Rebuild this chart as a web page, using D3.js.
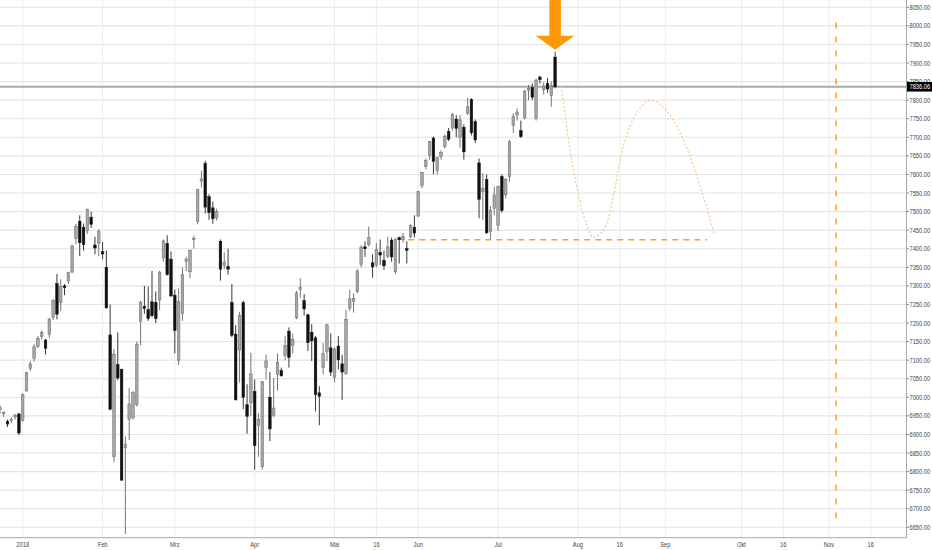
<!DOCTYPE html>
<html><head><meta charset="utf-8">
<script src="https://cdn.jsdelivr.net/npm/d3@7"></script>
<style>
body{margin:0;background:#fff;overflow:hidden;}
text{font-family:"Liberation Sans",Arial,sans-serif;}
</style>
</head><body>
<svg id="chart" width="932" height="550"></svg>
<script>
// ---------- DATA ----------
const holidays = ["2017-12-25","2018-01-01","2018-01-15","2018-02-19","2018-03-30","2018-05-28","2018-07-04"];
const firstCandleDate = "2017-12-21";
const calendarEnd = "2018-12-31";

const open = [6966,6956,6935,6937,6947,6955,
6938,7017,7078,7105,7137,7164,7154,7169,7215,7306,7255,7300,7313,7337,7427,7474,7458,7449,7485,7410,7415,
7392,7350,7168,6840,7088,7075,6864,6940,6945,6980,7205,7245,7236,7257,7256,7262,7375,7414,7372,
7275,7100,7225,7366,7338,7425,7473,7582,7630,7540,7510,7483,7420,7355,7352,7255,7170,7127,7255,6980,6985,
7016,6925,6813,7080,7000,6952,7062,7072,7112,7178,7140,7214,7290,7260,7222,7175,7160,7012,7080,7124,7133,
7054,7138,7090,7064,7240,7258,7285,7358,7405,7412,7362,7356,7390,7368,7380,7423,7338,7430,7424,7400,7432,7458,
7488,7570,7622,7652,7698,7610,7648,7675,7716,7725,7749,7700,7727,7765,7802,7742,7631,7554,7587,7446,7509,
7462,7594,7545,7594,7732,7760,7718,7752,7827,7834,7751,7862,7828,7845,7813,7916];

const high = [6980,6962,6940,6946,6955,6958,
7010,7069,7097,7143,7165,7180,7157,7214,7265,7332,7318,7305,7338,7410,7467,7490,7468,7508,7500,7432,7453,
7418,7395,7250,7130,7175,7077,6895,7025,7017,7150,7260,7300,7298,7340,7285,7340,7425,7436,7393,
7290,7293,7350,7378,7398,7435,7561,7610,7637,7547,7527,7508,7425,7390,7400,7305,7194,7230,7260,7035,7120,
7048,6958,7043,7115,7068,7052,7118,7080,7165,7188,7172,7286,7320,7278,7225,7197,7165,7030,7146,7198,7172,
7135,7165,7114,7236,7290,7280,7345,7410,7420,7460,7385,7415,7425,7395,7432,7430,7428,7432,7443,7420,7466,7490,
7556,7607,7643,7690,7702,7648,7665,7708,7725,7765,7760,7760,7735,7806,7805,7748,7643,7603,7600,7515,7567,
7570,7600,7590,7692,7765,7778,7745,7828,7841,7845,7858,7866,7848,7860,7850,7930];

const low = [6955,6947,6920,6930,6940,6898,
6935,7016,7071,7096,7132,7155,7115,7160,7208,7210,7232,7275,7305,7335,7412,7380,7395,7440,7456,7385,7380,
7372,7238,6965,6825,7046,6775,6632,6885,6940,6975,7140,7225,7206,7215,7200,7235,7365,7328,7270,
7118,7087,7206,7340,7320,7400,7466,7565,7495,7478,7467,7476,7314,7345,7330,7162,6992,7040,6968,6902,6950,
6805,6840,6805,7048,6882,6946,7018,7055,7100,7080,7118,7210,7268,7220,7125,7098,6962,6925,7062,7098,7058,
7040,7075,6993,7060,7232,7228,7280,7350,7378,7406,7322,7350,7356,7343,7375,7365,7332,7360,7416,7360,7428,7430,
7485,7563,7614,7640,7600,7600,7640,7670,7690,7718,7700,7672,7640,7760,7705,7685,7482,7477,7440,7425,7490,
7448,7497,7535,7580,7712,7745,7698,7748,7800,7800,7745,7845,7815,7820,7782,7832];

const close = [6972,6959,6928,6941,6952,6904,
7007,7066,7090,7136,7158,7174,7132,7211,7261,7224,7298,7295,7336,7408,7460,7416,7411,7505,7466,7402,7446,
7386,7241,6968,7115,7052,6777,6874,6982,7013,7143,7256,7239,7212,7220,7212,7337,7421,7330,7273,
7180,7258,7330,7372,7396,7427,7560,7588,7512,7497,7481,7500,7345,7364,7345,7167,6993,7220,7000,6949,7063,
6870,6941,7042,7098,6915,6971,7094,7058,7140,7107,7156,7281,7295,7238,7147,7152,7007,7003,7118,7195,7068,
7130,7101,7068,7210,7265,7266,7340,7404,7400,7430,7351,7398,7383,7354,7405,7378,7425,7424,7433,7396,7462,7442,
7554,7606,7637,7689,7635,7645,7659,7703,7695,7761,7724,7747,7661,7782,7712,7693,7533,7563,7443,7504,7545,
7567,7503,7587,7688,7756,7768,7702,7824,7832,7808,7854,7855,7838,7830,7840,7836.06];

const lastPrice = 7836.06;
const priceTicks = d3.range(6650, 8051, 50);

const tickDates  = ["2018-01-01","2018-02-01","2018-03-01","2018-04-01","2018-05-01","2018-05-16","2018-06-01","2018-07-01","2018-08-01","2018-08-16","2018-09-01","2018-10-01","2018-10-16","2018-11-01","2018-11-16"];
const tickLabels = ["2018","Feb","Mrz","Apr","Mai","16","Jun","Jul","Aug","16","Sep","Okt","16","Nov","16"];

// annotations (bar position, price)
const supportBar = [107.4, 186.0];
const supportPrice = 7424;
const markerBar = 219.9;
const markerPrice = [8009, 6661];
const pathBar   = [147.5,148.6,149.9,151.7,153.9,156.0,158.7,161.3,163.9,167.4,170.9,174.4,178.0,181.5,185.0,187.8];
const pathPrice = [7838,7765,7666,7567,7477,7431,7450,7540,7675,7765,7800,7782,7729,7648,7540,7442];

// ---------- CALENDAR ----------
const parse = d3.utcParse("%Y-%m-%d");
const fmt = d3.utcFormat("%Y-%m-%d");
const days = d3.utcDay.range(parse(firstCandleDate), parse(calendarEnd))
  .filter(d => d.getUTCDay() !== 0 && d.getUTCDay() !== 6 && !holidays.includes(fmt(d)));
const barOf = s => days.findIndex(d => d >= parse(s));

// ---------- LAYOUT ----------
const W = 932, H = 550;
const plotRight = 906.5, plotBottom = 537.7;
const svg = d3.select("#chart");

const x = d3.scaleLinear().domain([0.03, 238.4]).range([0, plotRight]);
const y = d3.scaleLinear().domain([6650, 8050]).range([527.3, 7.3]);

const grid = svg.append("g");
grid.selectAll("line.h").data(priceTicks).join("line")
  .attr("x1", 0).attr("x2", plotRight)
  .attr("y1", d => y(d)).attr("y2", d => y(d))
  .attr("stroke", "#e3e3e3").attr("stroke-width", 1.1);
const tickBars = tickDates.map(barOf);
grid.selectAll("line.v").data(tickBars).join("line")
  .attr("x1", d => x(d)).attr("x2", d => x(d))
  .attr("y1", 0).attr("y2", plotBottom)
  .attr("stroke", "#ececec").attr("stroke-width", 1);

// price line
svg.append("line").attr("x1", 0).attr("x2", plotRight)
  .attr("y1", y(lastPrice)).attr("y2", y(lastPrice))
  .attr("stroke", "#a9a9a9").attr("stroke-width", 1.8);

// candles
const candles = open.map((o, i) => ({p: i, o, h: high[i], l: low[i], c: close[i]}));
const bw = 2.6;
const cg = svg.append("g");
cg.selectAll("line").data(candles).join("line")
  .attr("x1", d => x(d.p)).attr("x2", d => x(d.p))
  .attr("y1", d => y(d.h)).attr("y2", d => y(d.l))
  .attr("stroke", d => d.c >= d.o ? "#666" : "#222").attr("stroke-width", 0.9);
cg.selectAll("rect").data(candles).join("rect")
  .attr("x", d => x(d.p) - bw / 2).attr("width", bw)
  .attr("y", d => y(Math.max(d.o, d.c)))
  .attr("height", d => Math.max(1, Math.abs(y(d.o) - y(d.c))))
  .attr("fill", d => d.c >= d.o ? "#a6a6a6" : "#111")
  .attr("stroke", d => d.c >= d.o ? "#6a6a6a" : "#111").attr("stroke-width", 0.5);

// support dashed line
svg.append("line")
  .attr("x1", x(supportBar[0])).attr("x2", x(supportBar[1]))
  .attr("y1", y(supportPrice)).attr("y2", y(supportPrice))
  .attr("stroke", "#f3a23a").attr("stroke-width", 1.5).attr("stroke-dasharray", "6,5");

// projected path (dotted)
svg.append("path")
  .datum(pathBar.map((b, i) => [b, pathPrice[i]]))
  .attr("d", d3.line().x(d => x(d[0])).y(d => y(d[1])).curve(d3.curveCatmullRom))
  .attr("fill", "none").attr("stroke", "#f6c27e").attr("stroke-width", 1.1)
  .attr("stroke-dasharray", "2,2");

// vertical dashed marker
svg.append("line")
  .attr("x1", x(markerBar)).attr("x2", x(markerBar))
  .attr("y1", y(markerPrice[0])).attr("y2", y(markerPrice[1]))
  .attr("stroke", "#f29a1f").attr("stroke-width", 1.4).attr("stroke-dasharray", "6,8");

// arrow above last candle
const last = candles[candles.length - 1];
const ax = x(last.p), tipY = y(last.h) - 2;
svg.append("path")
  .attr("d", `M${ax-5.8},0 L${ax+5.8},0 L${ax+5.8},${tipY-14} L${ax+19.4},${tipY-14} L${ax},${tipY} L${ax-19.4},${tipY-14} L${ax-5.8},${tipY-14} Z`)
  .attr("fill", "#ff9808");

// axes
svg.append("line").attr("x1", 0).attr("x2", plotRight).attr("y1", plotBottom).attr("y2", plotBottom)
  .attr("stroke", "#a8a8a8").attr("stroke-width", 1);
svg.append("line").attr("x1", plotRight).attr("x2", plotRight).attr("y1", 0).attr("y2", plotBottom)
  .attr("stroke", "#a8a8a8").attr("stroke-width", 1);

const yAx = svg.append("g");
yAx.selectAll("line").data(priceTicks).join("line")
  .attr("x1", plotRight).attr("x2", plotRight + 2.5)
  .attr("y1", d => y(d)).attr("y2", d => y(d)).attr("stroke", "#888");
yAx.selectAll("text").data(priceTicks).join("text")
  .attr("transform", d => `translate(${plotRight + 3},${y(d) + 2.5}) scale(0.82,1)`)
  .attr("font-size", 7).attr("fill", "#444")
  .text(d3.format(".2f"));

const xAx = svg.append("g");
xAx.selectAll("text").data(tickBars).join("text")
  .attr("transform", d => `translate(${x(d)},${plotBottom + 9.5}) scale(0.82,1)`)
  .attr("text-anchor", "middle").attr("font-size", 7).attr("fill", "#444")
  .text((d, i) => tickLabels[i]);

// last price tag
svg.append("rect").attr("x", plotRight + 0.5).attr("y", y(lastPrice) - 4.8)
  .attr("width", W - plotRight).attr("height", 9.6).attr("fill", "#000");
svg.append("text")
  .attr("transform", `translate(${plotRight + 3},${y(lastPrice) + 2.5}) scale(0.82,1)`)
  .attr("font-size", 7).attr("fill", "#fff")
  .text(d3.format(".2f")(lastPrice));
</script>
</body></html>
